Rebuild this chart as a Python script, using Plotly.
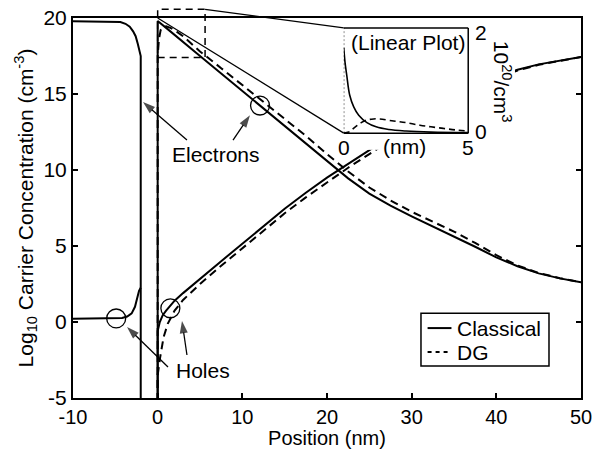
import numpy as np
import plotly.graph_objects as go

# ---------------- data ----------------
# Gate side (x < 0), log10 concentration
gate_e_x = [-10, -6, -5, -4.4, -3.8, -3.3, -2.9, -2.6, -2.35, -2.15, -2.0, -2.0]
gate_e = [19.78, 19.78, 19.77, 19.74, 19.62, 19.43, 19.12, 18.8, 18.3, 17.85, 17.5, -30]
gate_h_x = [-10, -6, -5, -4.2, -3.6, -3.07, -2.68, -2.4, -2.2, -2.0]
gate_h = [0.22, 0.22, 0.23, 0.26, 0.36, 0.57, 1.0, 1.6, 2.05, 2.25]

# Substrate side (x > 0)
cl_e_x = [0, 0, 1, 2, 3, 5, 7.5, 10, 12.5, 15, 17.5, 20, 22.5, 25, 27.5, 30,
          32.5, 35, 37.5, 40, 42.5, 45, 47.5, 50]
cl_e = [-30, 19.8, 19.35, 18.9, 18.45, 17.5, 16.35, 15.2, 14.05, 12.9, 11.75,
        10.55, 9.45, 8.45, 7.65, 6.95, 6.3, 5.63, 4.95, 4.25, 3.67, 3.2, 2.87, 2.62]
dg_e_x = [0, 0, 0.15, 0.35, 0.6, 1, 1.5, 2, 3, 5, 7.5, 10, 12.5, 15, 17.5, 20,
          22.5, 25, 27.5, 30, 32.5, 35, 37.5, 40, 42.5, 45, 47.5, 50]
dg_e = [-30, 17.5, 18.6, 19.2, 19.4, 19.45, 19.35, 19.2, 18.8, 17.8, 16.7, 15.6,
        14.5, 13.4, 12.25, 11.05, 9.9, 8.85, 8.0, 7.25, 6.6, 5.95, 5.2, 4.4,
        3.72, 3.23, 2.88, 2.62]
cl_h_x = [0, 0, 0.25, 0.6, 1, 1.5, 2, 3, 5, 7.5, 10, 12.5, 15, 17.5, 20, 22.5,
          25, 27.5, 30, 32.5, 35, 37.5, 40, 42.5, 45, 47.5, 50]
cl_h = [-30, -0.6, 0.0, 0.45, 0.75, 1.05, 1.4, 1.9, 2.85, 4.0, 5.15, 6.3, 7.45,
        8.5, 9.5, 10.4, 11.3, 12.2, 13.1, 14.0, 14.8, 15.5, 16.1, 16.6, 16.95,
        17.2, 17.43]
dg_h_x = [0, 0, 0.3, 0.7, 1.2, 2, 3, 5, 7.5, 10, 12.5, 15, 17.5, 20, 22.5, 25,
          27.5, 30, 32.5, 35, 37.5, 40, 42.5, 45, 47.5, 50]
dg_h = [-30, -3.5, -2.3, -1.0, -0.1, 0.75, 1.45, 2.5, 3.7, 4.85, 6.0, 7.15, 8.2,
        9.2, 10.15, 11.05, 11.95, 12.9, 13.8, 14.65, 15.4, 16.05, 16.55, 16.92,
        17.18, 17.43]

# Inset (linear, units of 1e20 cm^-3)
in_cl_x = [0, 0.05, 0.12, 0.24, 0.4, 0.6, 0.93, 1.3, 1.8, 2.5, 3.5, 5]
in_cl = [1.62, 1.35, 1.1, 0.72, 0.5, 0.34, 0.2, 0.12, 0.07, 0.04, 0.02, 0.01]
in_dg_x = [0, 0.2, 0.44, 0.7, 0.93, 1.2, 1.45, 2, 2.5, 3.06, 3.5, 4, 4.5, 5]
in_dg = [0, 0.02, 0.11, 0.2, 0.25, 0.27, 0.27, 0.23, 0.2, 0.15, 0.12, 0.09, 0.06, 0.04]

# ticks
x_ticks = [-10, 0, 10, 20, 30, 40, 50]
x_ticklabels = ["-10", "0", "10", "20", "30", "40", "50"]
y_ticks = [-5, 0, 5, 10, 15, 20]
y_ticklabels = ["-5", "0", "5", "10", "15", "20"]
inset_x_ticks = [0, 5]
inset_y_ticks = [0, 2]

# series names for the key
series_names = ["Classical", "DG"]

# labels with pointer arrows: (text, text position, [(tail, tip), ...])
labels = {
    "Electrons": ((6.89, 10.99), [((3.46, 11.97), (-1.73, 14.47)),
                                   ((8.9, 11.97), (10.9, 13.6))]),
    "Holes": ((5.35, -3.16), [((1.22, -2.96), (-3.62, -0.33)),
                               ((3.46, -2.17), (2.87, 0.07))]),
}

# ---------------- layout constants ----------------
FONT = "Liberation Sans, Arial, Helvetica, sans-serif"
FS = 21
X_RANGE = [-10, 50]
Y_RANGE = [-5, 20]
# inset frame and the white area it masks (paper fractions of the plot area)
IN_X0, IN_X1, IN_Y0, IN_Y1 = 0.533, 0.778, 0.697, 0.974
MASK_X1, MASK_Y0, MASK_Y1 = 0.870, 0.653, 0.995
INSET_XMAX = inset_x_ticks[-1]
INSET_YMAX = inset_y_ticks[-1]
ux = INSET_XMAX / (IN_X1 - IN_X0)
uy = INSET_YMAX / (IN_Y1 - IN_Y0)
x2_range = [0, (MASK_X1 - IN_X0) * ux]
y2_range = [-(IN_Y0 - MASK_Y0) * uy, INSET_YMAX + (MASK_Y1 - IN_Y1) * uy]

# key box (paper fractions)
KEY_X0, KEY_X1, KEY_Y0, KEY_Y1 = 0.685, 0.937, 0.0842, 0.223
KEY_LINE_X0, KEY_LINE_X1, KEY_TEXT_X = 0.698, 0.745, 0.751
KEY_ROW_Y = [0.184, 0.121]


def to_paper(x, y):
    return ((x - X_RANGE[0]) / (X_RANGE[1] - X_RANGE[0]),
            (y - Y_RANGE[0]) / (Y_RANGE[1] - Y_RANGE[0]))


solid = dict(color="black", width=2)
dashed = dict(color="black", width=2, dash="8px,5px")

fig = go.Figure()
fig.add_trace(go.Scatter(x=gate_e_x, y=gate_e, mode="lines", line=solid, name=series_names[0]))
fig.add_trace(go.Scatter(x=gate_h_x, y=gate_h, mode="lines", line=solid, name=series_names[0]))
fig.add_trace(go.Scatter(x=cl_e_x, y=cl_e, mode="lines", line=solid, name=series_names[0]))
fig.add_trace(go.Scatter(x=cl_h_x, y=cl_h, mode="lines", line=solid, name=series_names[0]))
fig.add_trace(go.Scatter(x=dg_e_x, y=dg_e, mode="lines", line=dashed, name=series_names[1]))
fig.add_trace(go.Scatter(x=dg_h_x, y=dg_h, mode="lines", line=dashed, name=series_names[1]))

# pointer arrows (line + arrow marker oriented along the segment)
for text, (pos, arrows) in labels.items():
    for (tx, ty), (hx, hy) in arrows:
        fig.add_trace(go.Scatter(
            x=[tx, hx], y=[ty, hy], mode="lines+markers",
            line=dict(color="black", width=1.3),
            marker=dict(symbol="arrow", size=[0, 13], angleref="previous",
                        color="black", line=dict(width=0)),
            hoverinfo="skip"))

# inset traces
fig.add_trace(go.Scatter(x=in_cl_x, y=in_cl, mode="lines", xaxis="x2", yaxis="y2",
                         line=dict(color="black", width=1.6, shape="spline"),
                         name=series_names[0]))
fig.add_trace(go.Scatter(x=in_dg_x, y=in_dg, mode="lines", xaxis="x2", yaxis="y2",
                         line=dict(color="black", width=1.6, dash="6px,4px", shape="spline"),
                         name=series_names[1]))

shapes = []
# circles marking points on the curves
RX, RY = 1.12, 0.62
circ_pts = [
    (12.09, float(np.interp(12.09, cl_e_x[1:], cl_e[1:]))),
    (-4.9, float(np.interp(-4.9, gate_h_x, gate_h))),
    (1.5, float(np.interp(1.5, cl_h_x[1:], cl_h[1:])) - 0.15),
]
for cx, cy in circ_pts:
    shapes.append(dict(type="circle", xref="x", yref="y", x0=cx - RX, x1=cx + RX,
                       y0=cy - RY, y1=cy + RY, line=dict(color="black", width=1.3)))

# zoom rectangle and connector lines (paper coords so they can leave the axes)
zx0, zy0 = to_paper(0, 17.4)
zx1, zy1 = to_paper(5.6, 20.57)
shapes.append(dict(type="rect", xref="paper", yref="paper", x0=zx0, x1=zx1, y0=zy0, y1=zy1,
                   line=dict(color="black", width=1.5, dash="7px,5px")))
shapes.append(dict(type="line", xref="paper", yref="paper", x0=zx1, y0=zy1, x1=IN_X0, y1=IN_Y1,
                   line=dict(color="black", width=1.3)))
cx0, cy0 = to_paper(0, 20)
shapes.append(dict(type="line", xref="paper", yref="paper", x0=cx0, y0=cy0, x1=IN_X0, y1=IN_Y0,
                   line=dict(color="black", width=1.3)))
# inset frame
frame = dict(color="black", width=1.5)
shapes.append(dict(type="line", xref="x2", yref="y2", x0=0, x1=INSET_XMAX, y0=INSET_YMAX, y1=INSET_YMAX, line=frame))
shapes.append(dict(type="line", xref="x2", yref="y2", x0=INSET_XMAX, x1=INSET_XMAX, y0=0, y1=INSET_YMAX, line=frame))
shapes.append(dict(type="line", xref="x2", yref="y2", x0=0, x1=INSET_XMAX, y0=0, y1=0, line=frame))
shapes.append(dict(type="line", xref="x2", yref="y2", x0=0, x1=0, y0=0, y1=INSET_YMAX,
                   line=dict(color="black", width=1, dash="2px,2px")))

# key (legend) box
shapes.append(dict(type="rect", xref="paper", yref="paper", x0=KEY_X0, x1=KEY_X1,
                   y0=KEY_Y0, y1=KEY_Y1, fillcolor="white", layer="above",
                   line=dict(color="black", width=1.5)))
key_styles = [dict(color="black", width=2), dict(color="black", width=1.8, dash="4px,4px")]
for ky, st in zip(KEY_ROW_Y, key_styles):
    shapes.append(dict(type="line", xref="paper", yref="paper", x0=KEY_LINE_X0, x1=KEY_LINE_X1,
                       y0=ky, y1=ky, line=st))

ann = []
tf = dict(family=FONT, size=FS, color="black")
for text, (pos, arrows) in labels.items():
    ann.append(dict(x=pos[0], y=pos[1], text=text, showarrow=False, font=tf, xref="x", yref="y"))
for ky, name in zip(KEY_ROW_Y, series_names):
    ann.append(dict(x=KEY_TEXT_X, y=ky, xref="paper", yref="paper", text=name,
                    xanchor="left", yanchor="middle", showarrow=False, font=tf))
# inset labels
ann.append(dict(x=2.58, y=1.73, xref="x2", yref="y2", text="(Linear Plot)", showarrow=False, font=tf))
ann.append(dict(x=inset_x_ticks[0], y=-0.27, xref="x2", yref="y2", text=str(inset_x_ticks[0]), showarrow=False, font=tf))
ann.append(dict(x=inset_x_ticks[1], y=-0.27, xref="x2", yref="y2", text=str(inset_x_ticks[1]), showarrow=False, font=tf))
ann.append(dict(x=2.46, y=-0.25, xref="x2", yref="y2", text="(nm)", showarrow=False, font=tf))
ann.append(dict(x=5.52, y=inset_y_ticks[1] - 0.08, xref="x2", yref="y2", text=str(inset_y_ticks[1]), showarrow=False, font=tf))
ann.append(dict(x=5.52, y=inset_y_ticks[0] + 0.03, xref="x2", yref="y2", text=str(inset_y_ticks[0]), showarrow=False, font=tf))
ann.append(dict(x=6.37, y=0.97, xref="x2", yref="y2", text="10<sup>20</sup>/cm<sup>3</sup>",
                textangle=90, showarrow=False, font=tf))

tf20 = dict(family=FONT, size=20, color="black")
fig.update_layout(
    template="none",
    width=593, height=449,
    margin=dict(l=73, r=12, t=18, b=51, autoexpand=False),
    paper_bgcolor="white", plot_bgcolor="white",
    font=tf,
    showlegend=False,
    xaxis=dict(range=X_RANGE, tickvals=x_ticks, ticktext=x_ticklabels,
               ticks="inside", ticklen=5, tickwidth=1.5, tickcolor="black",
               showline=True, linewidth=2, linecolor="black", mirror=True,
               showgrid=False, zeroline=False, automargin=False,
               title=dict(text="Position (nm)", font=tf20, standoff=4),
               tickfont=tf20),
    yaxis=dict(range=Y_RANGE, tickvals=y_ticks, ticktext=y_ticklabels,
               ticks="inside", ticklen=5, tickwidth=1.5, tickcolor="black",
               showline=True, linewidth=2, linecolor="black", mirror="ticks",
               showgrid=False, zeroline=False, automargin=False,
               title=dict(text="Log<sub>10</sub> Carrier Concentration (cm<sup>-3</sup>)",
                          font=tf, standoff=4),
               tickfont=tf),
    xaxis2=dict(domain=[IN_X0, MASK_X1], range=x2_range, anchor="y2",
                showline=False, showgrid=False, zeroline=False, automargin=False,
                showticklabels=False, ticks=""),
    yaxis2=dict(domain=[MASK_Y0, MASK_Y1], range=y2_range, anchor="x2",
                showline=False, showgrid=False, zeroline=False, automargin=False,
                showticklabels=False, ticks=""),
    shapes=shapes,
    annotations=ann,
)

fig.write_html("out.html")
